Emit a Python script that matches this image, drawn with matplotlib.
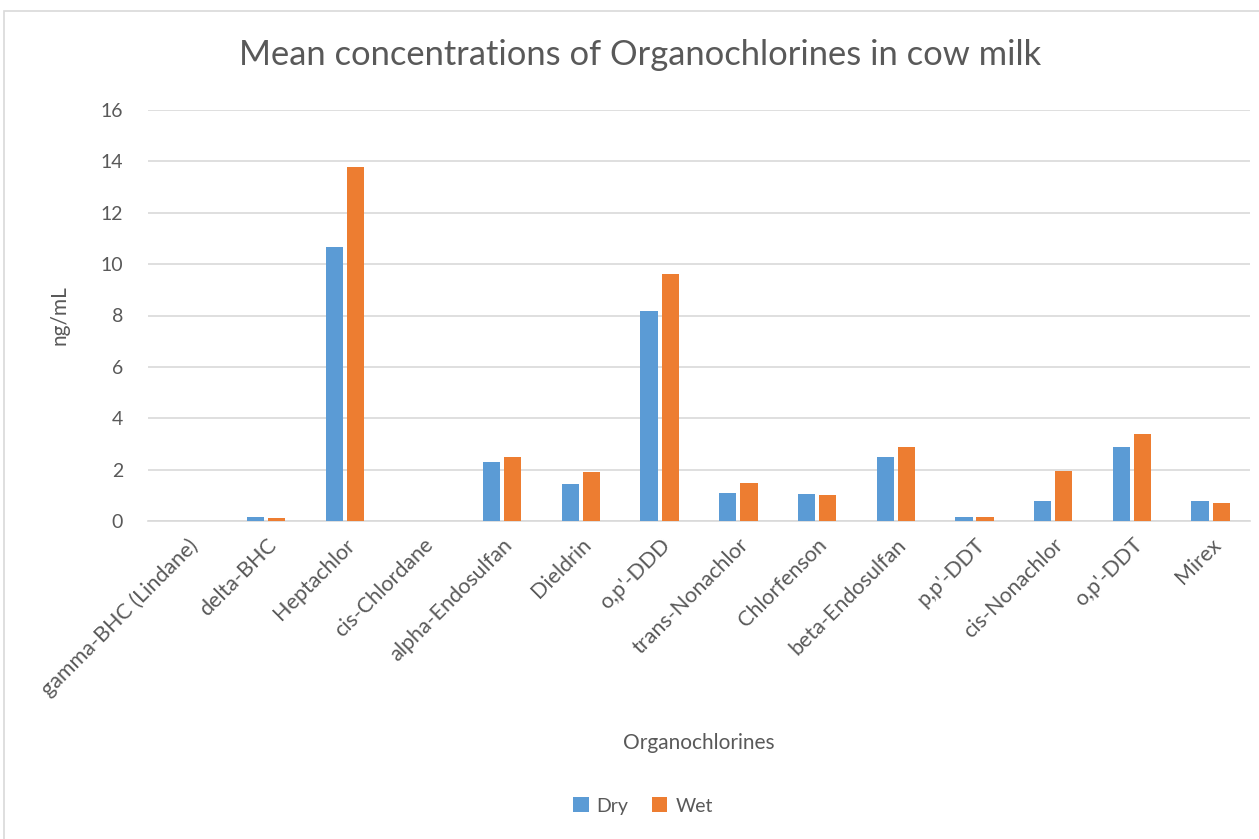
import matplotlib

matplotlib.use("Agg")
import matplotlib.pyplot as plt
import numpy as np
from matplotlib.patches import Rectangle

# Data
categories = [
    "gamma-BHC (Lindane)", "delta-BHC", "Heptachlor", "cis-Chlordane",
    "alpha-Endosulfan", "Dieldrin", "o,p'-DDD", "trans-Nonachlor",
    "Chlorfenson", "beta-Endosulfan", "p,p'-DDT", "cis-Nonachlor",
    "o,p'-DDT", "Mirex",
]
dry = [0.0, 0.14, 10.68, 0.0, 2.30, 1.44, 8.16, 1.10, 1.05, 2.48, 0.14, 0.78, 2.87, 0.78]
wet = [0.0, 0.10, 13.77, 0.0, 2.49, 1.92, 9.61, 1.49, 1.01, 2.89, 0.14, 1.96, 3.39, 0.71]
y_ticks = [0, 2, 4, 6, 8, 10, 12, 14, 16]

BLUE = "#5B9BD5"
ORANGE = "#ED7D31"
TEXT = "#595959"
GRID = "#D9D9D9"

plt.rcParams["font.family"] = ["Lato", "DejaVu Sans"]

fig = plt.figure(figsize=(12.59, 8.39), dpi=100)
ax = fig.add_axes([148 / 1259, 1 - 521 / 839, (1250 - 148) / 1259, (521 - 110) / 839])

# Chart border
fig.patches.append(
    Rectangle((4 / 1259, -0.01), 1.0, 1 - 11 / 839 + 0.01, transform=fig.transFigure,
              fill=False, edgecolor=GRID, linewidth=1.2)
)

x = np.arange(len(categories))
w = 0.22
ax.bar(x - w / 2 - 0.025, dry, width=w, color=BLUE, label="Dry", zorder=3)
ax.bar(x + w / 2 + 0.025, wet, width=w, color=ORANGE, label="Wet", zorder=3)

ax.set_xlim(-0.5, len(categories) - 0.5)
ax.set_ylim(0, 16)
ax.set_yticks(y_ticks)
ax.yaxis.grid(True, color=GRID, linewidth=1.2, zorder=0)
ax.set_axisbelow(True)
for s in ["top", "right", "left"]:
    ax.spines[s].set_visible(False)
ax.spines["bottom"].set_color(GRID)
ax.spines["bottom"].set_linewidth(1.2)
ax.tick_params(axis="both", length=0, colors=TEXT, labelsize=14)
ax.tick_params(axis="y", pad=18)
ax.set_xticks(x)
ax.set_xticklabels(categories, rotation=45, ha="right", rotation_mode="anchor")
ax.tick_params(axis="x", pad=10, labelsize=15.5)

ax.set_ylabel("ng/mL", fontsize=15, color=TEXT, labelpad=22)
ax.set_xlabel("Organochlorines", fontsize=15, color=TEXT, labelpad=24)

fig.text(640 / 1259, 1 - 55 / 839, "Mean concentrations of Organochlorines in cow milk",
         ha="center", va="center", fontsize=24.8, color=TEXT)

fig.legend(loc="center", bbox_to_anchor=(643 / 1259, 1 - 806 / 839), ncol=2,
           frameon=False, fontsize=14, handlelength=0.8, handleheight=0.8,
           columnspacing=1.2, handletextpad=0.4, labelcolor=TEXT)

fig.savefig("out.png", dpi=100)
plt.close(fig)
